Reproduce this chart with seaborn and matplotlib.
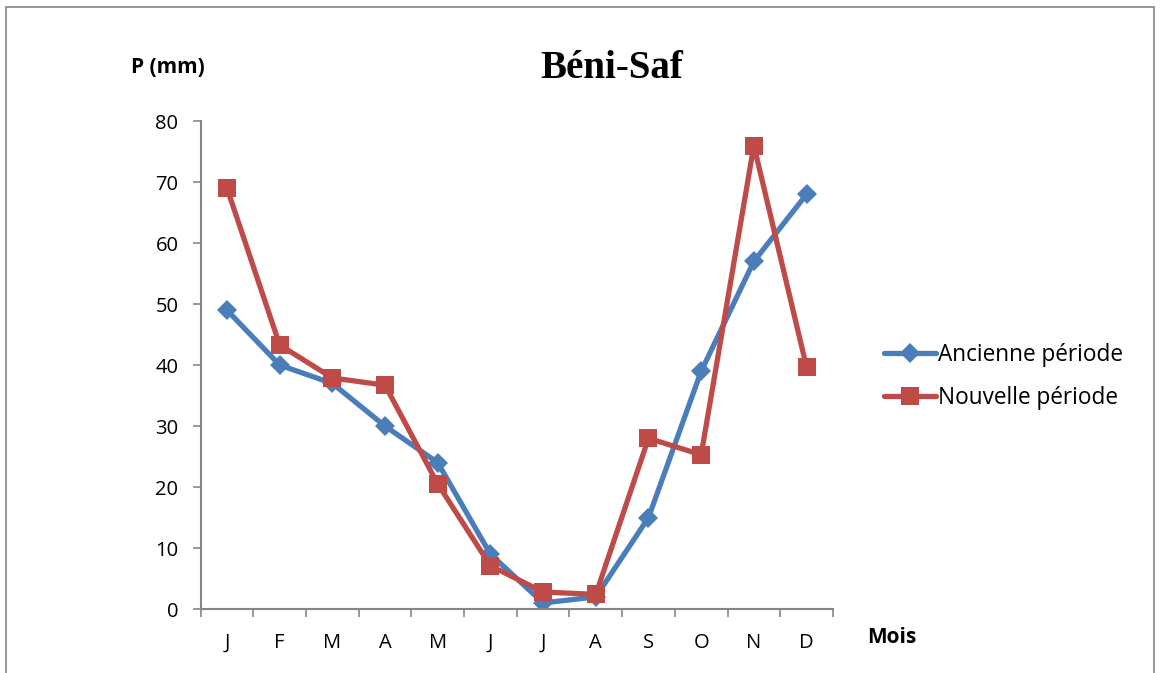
import matplotlib
matplotlib.use("Agg")
import matplotlib.pyplot as plt
import seaborn as sns
import pandas as pd
import numpy as np
from matplotlib.patches import Rectangle

months = ["J", "F", "M", "A", "M", "J", "J", "A", "S", "O", "N", "D"]
ancienne = [49, 40, 37, 30, 24, 9, 1, 2, 15, 39, 57, 68]
nouvelle = [69, 43.3, 37.9, 36.7, 20.5, 7.1, 2.8, 2.4, 28.0, 25.3, 76.0, 39.7]
series_names = ["Ancienne période", "Nouvelle période"]

sns.set_theme(style="white")
plt.rcParams['font.family'] = ['Open Sans', 'DejaVu Sans']
plt.rcParams['text.color'] = 'black'
plt.rcParams['xtick.color'] = 'black'
plt.rcParams['ytick.color'] = 'black'

df = pd.DataFrame({
    "idx": list(range(12)) * 2,
    "P": ancienne + nouvelle,
    "serie": [series_names[0]] * 12 + [series_names[1]] * 12,
})

fig = plt.figure(figsize=(11.6, 6.73), dpi=100)
ax = fig.add_axes([0.173, 0.095, 0.545, 0.725])

colors = {series_names[0]: "#4A7EBB", series_names[1]: "#BE4B48"}
markers = {series_names[0]: "D", series_names[1]: "s"}
sizes = {series_names[0]: 10, series_names[1]: 13.5}
for name in series_names:
    sub = df[df["serie"] == name]
    sns.lineplot(data=sub, x="idx", y="P", ax=ax, color=colors[name],
                 marker=markers[name], markersize=sizes[name], linewidth=3.8,
                 markeredgewidth=0, label=name)

ax.set_xlim(-0.5, 11.5)
ax.set_ylim(0, 80)
ax.set_yticks(range(0, 81, 10))
ax.set_xticks(range(12))
ax.set_xticklabels(months)
ax.set_xticks(np.arange(-0.5, 12, 1), minor=True)
ax.tick_params(axis="x", which="major", length=0, pad=17, labelsize=14.5, labelcolor="black")
ax.tick_params(axis="x", which="minor", length=6, width=1.2, color="#868686", direction="out", bottom=True)
ax.tick_params(axis="y", which="major", length=6, width=1.2, color="#868686", direction="out", left=True,
               labelsize=14.5, pad=10, labelcolor="black")
for s in ["top", "right"]:
    ax.spines[s].set_visible(False)
for s in ["left", "bottom"]:
    ax.spines[s].set_color("#868686")
    ax.spines[s].set_linewidth(1.5)
ax.set_xlabel("")
ax.set_ylabel("")
ax.grid(False)

fig.text(0.527, 0.898, "Béni-Saf", fontsize=28, fontweight="bold", color="black",
         family=["Liberation Serif"], ha="center", va="center")
fig.text(0.145, 0.899, "P (mm)", fontsize=15, fontweight="bold", color="black", ha="center", va="center")
fig.text(0.769, 0.053, "Mois", fontsize=15, fontweight="bold", color="black", ha="center", va="center")

leg = ax.legend(loc="center left", bbox_to_anchor=(0.762, 0.441), bbox_transform=fig.transFigure,
                frameon=False, fontsize=16.3, handlelength=2.3, handletextpad=0.1, labelspacing=0.85,
                borderpad=0, borderaxespad=0)
for t in leg.get_texts():
    t.set_color("black")

fig.patches.append(Rectangle((0.005, -0.01), 0.99, 1.0, transform=fig.transFigure,
                             fill=False, edgecolor="#868686", linewidth=1.2))

fig.savefig("out.png", dpi=100)
